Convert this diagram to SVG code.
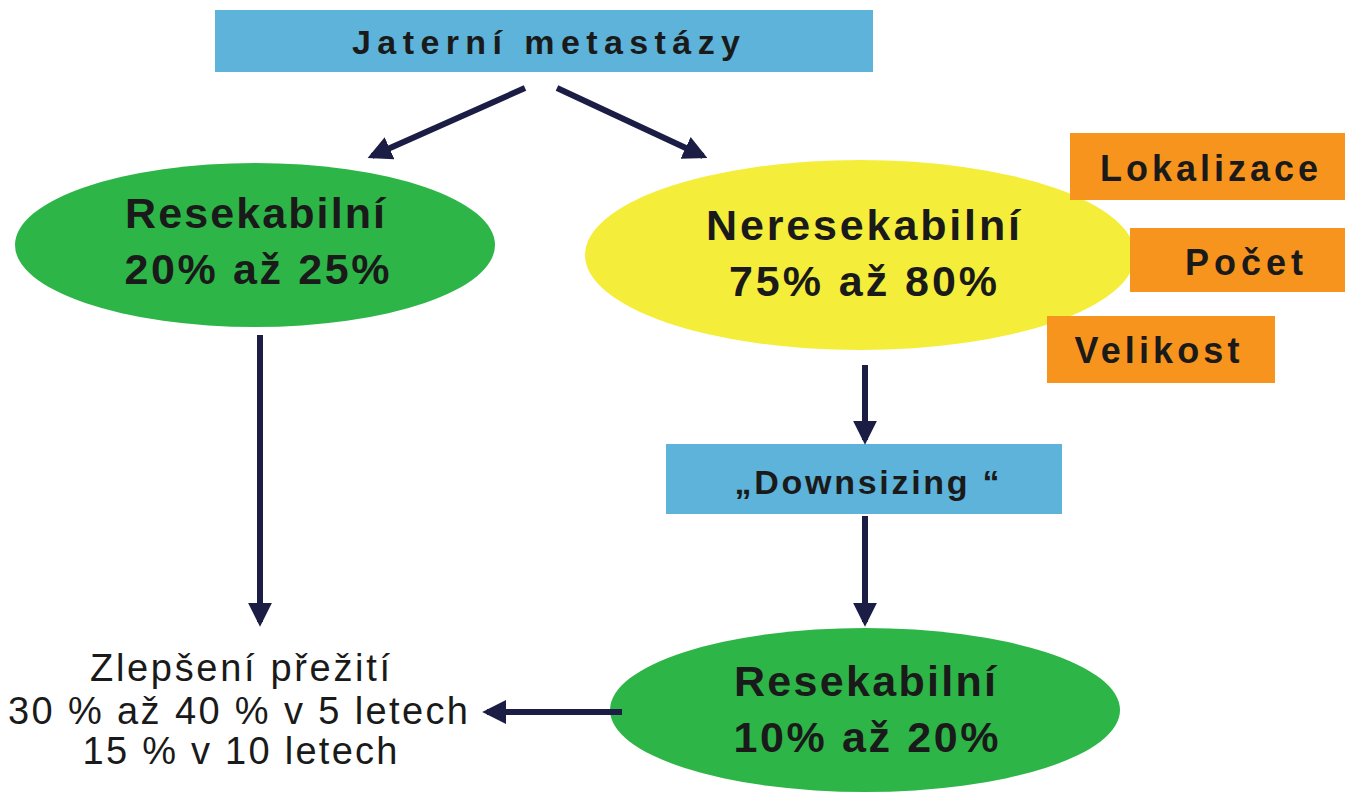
<svg xmlns="http://www.w3.org/2000/svg" width="1365" height="800" viewBox="0 0 1365 800">
<defs>
<style>
.b{font-family:"Liberation Sans",Arial,sans-serif;font-weight:bold;fill:#1a1a1a;text-anchor:middle}
.n{font-family:"Liberation Sans",Arial,sans-serif;fill:#1a1a1a;text-anchor:middle;font-size:38px}
.c line{stroke:#1b1d45;stroke-width:6}
.blue{fill:#5db3d9}.or{fill:#f7941d}
</style>
<marker id="a" viewBox="0 0 10 10" refX="8" refY="5" markerWidth="4" markerHeight="4" orient="auto"><path d="M0,0L10,5L0,10z" fill="#1b1d45"/></marker>
</defs>
<rect width="1365" height="800" fill="#fff"/>
<g id="top"><rect class="blue" x="215" y="10" width="658" height="62"/><text class="b" x="546" y="54" font-size="34" textLength="388" lengthAdjust="spacing">Jaterní  metastázy</text></g>
<g id="res1"><ellipse cx="255" cy="245" rx="240" ry="82" fill="#2db548"/><text class="b" x="255" y="228" font-size="43" textLength="260" lengthAdjust="spacing">Resekabilní</text><text class="b" x="257" y="284" font-size="43" textLength="265" lengthAdjust="spacing">20% až 25%</text></g>
<g id="neres"><ellipse cx="860" cy="255" rx="275" ry="95" fill="#f4ee3a"/><text class="b" x="863" y="240" font-size="43" textLength="314" lengthAdjust="spacing">Neresekabilní</text><text class="b" x="863" y="296" font-size="43" textLength="268" lengthAdjust="spacing">75% až 80%</text></g>
<g id="lok"><rect class="or" x="1070" y="133" width="275" height="67"/><text class="b" x="1209" y="181" font-size="36" textLength="218" lengthAdjust="spacing">Lokalizace</text></g>
<g id="pocet"><rect class="or" x="1130" y="228" width="215" height="64"/><text class="b" x="1244" y="275" font-size="36" textLength="118" lengthAdjust="spacing">Počet</text></g>
<g id="vel"><rect class="or" x="1047" y="316" width="228" height="67"/><text class="b" x="1157" y="363" font-size="36" textLength="165" lengthAdjust="spacing">Velikost</text></g>
<g id="down"><rect class="blue" x="666" y="444" width="396" height="70"/><text class="b" x="867" y="494" font-size="34" textLength="265" lengthAdjust="spacing">„Downsizing “</text></g>
<g id="res2"><ellipse cx="865" cy="710" rx="255" ry="82" fill="#2db548"/><text class="b" x="865" y="696" font-size="43" textLength="262" lengthAdjust="spacing">Resekabilní</text><text class="b" x="866" y="752" font-size="43" textLength="265" lengthAdjust="spacing">10% až 20%</text></g>
<g id="zlep"><text class="n" x="240" y="681" textLength="300" lengthAdjust="spacing">Zlepšení přežití</text><text class="n" x="238" y="724" textLength="460" lengthAdjust="spacing">30 % až 40 % v 5 letech</text><text class="n" x="240" y="764" textLength="315" lengthAdjust="spacing">15 % v 10 letech</text></g>
<g class="c">
<line x1="525" y1="88" x2="372" y2="156" marker-end="url(#a)"/>
<line x1="557" y1="88" x2="703" y2="156" marker-end="url(#a)"/>
<line x1="260" y1="335" x2="260" y2="622" marker-end="url(#a)"/>
<line x1="865" y1="365" x2="865" y2="440" marker-end="url(#a)"/>
<line x1="865" y1="516" x2="865" y2="622" marker-end="url(#a)"/>
<line x1="622" y1="712" x2="487" y2="712" marker-end="url(#a)"/>
</g>
</svg>
